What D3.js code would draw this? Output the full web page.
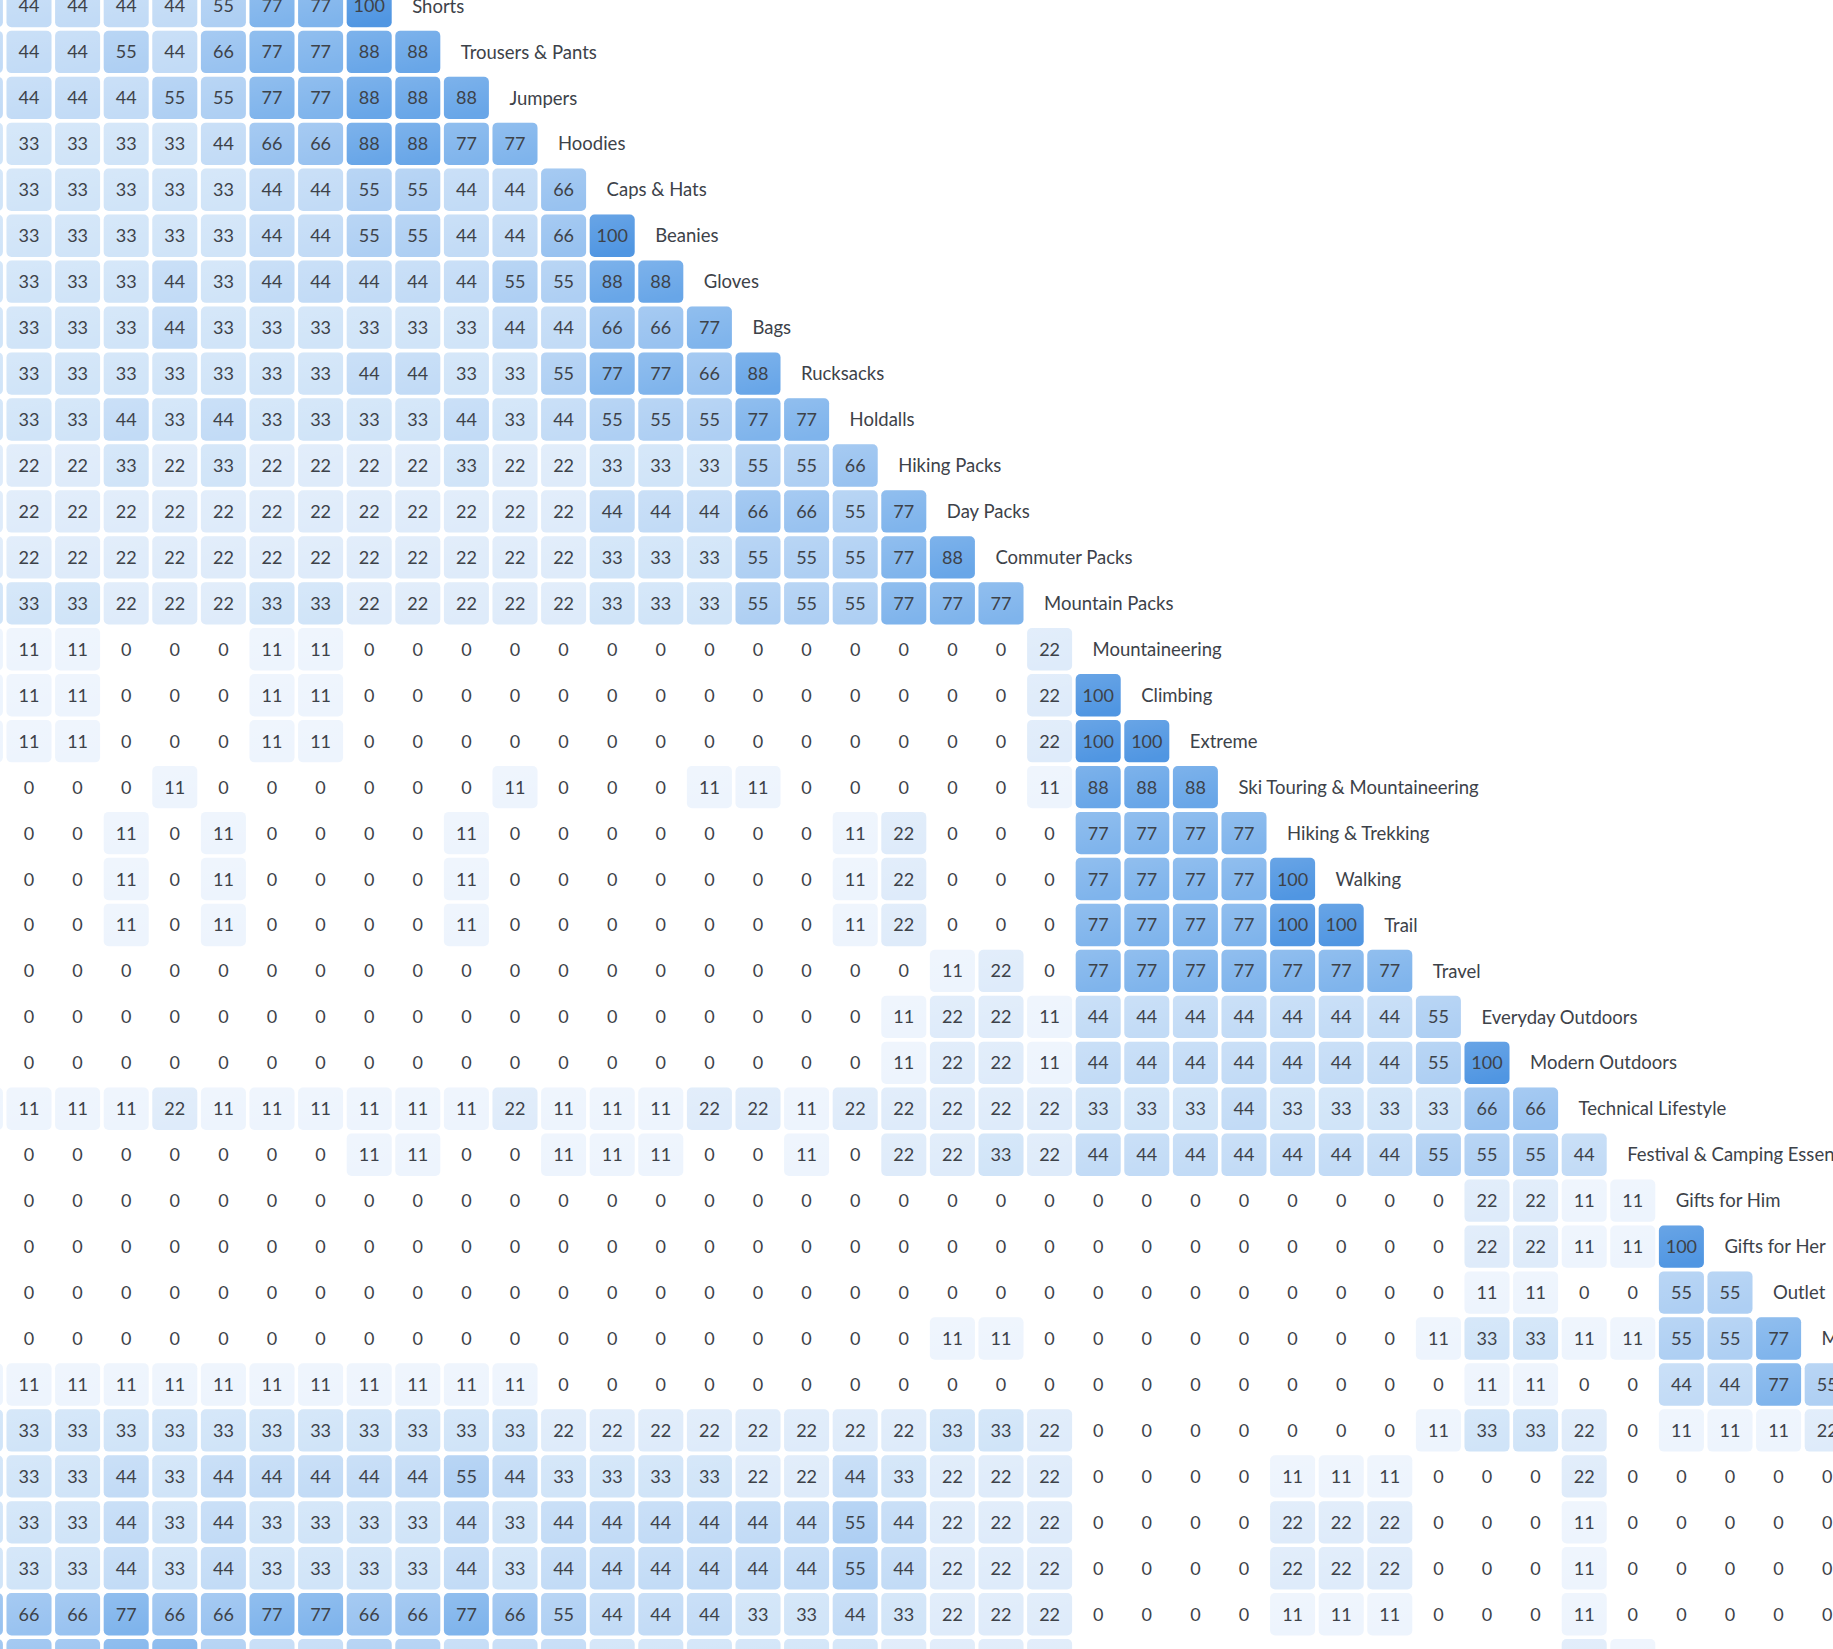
<!DOCTYPE html>
<html>
<head>
<meta charset="utf-8">
<script src="https://cdn.jsdelivr.net/npm/d3@7"></script>
<style>
  html, body { margin: 0; padding: 0; background: #ffffff; overflow: hidden; }
  svg { display: block; }
</style>
</head>
<body>
<div id="chart"></div>
<script>
// ---- data -------------------------------------------------------------
// Row labels (the item of each row). Rows below "M…" have their labels off-screen.
const rowLabels = [
  "Shorts", "Trousers & Pants", "Jumpers", "Hoodies", "Caps & Hats", "Beanies",
  "Gloves", "Bags", "Rucksacks", "Holdalls", "Hiking Packs", "Day Packs",
  "Commuter Packs", "Mountain Packs", "Mountaineering", "Climbing", "Extreme",
  "Ski Touring & Mountaineering", "Hiking & Trekking", "Walking", "Trail", "Travel",
  "Everyday Outdoors", "Modern Outdoors", "Technical Lifestyle",
  "Festival & Camping Essentials", "Gifts for Him", "Gifts for Her", "Outlet", "M",
  "", "", "", "", "", "", ""
];

// First visible column index (the column cut by the left edge).
const firstColumn = -1;

// Similarity values per row, starting at firstColumn.
const values = [
  [44, 44,44,44,44,55,77,77,100],
  [44, 44,44,55,44,66,77,77,88,88],
  [44, 44,44,44,55,55,77,77,88,88,88],
  [33, 33,33,33,33,44,66,66,88,88,77,77],
  [33, 33,33,33,33,33,44,44,55,55,44,44,66],
  [33, 33,33,33,33,33,44,44,55,55,44,44,66,100],
  [33, 33,33,33,44,33,44,44,44,44,44,55,55,88,88],
  [33, 33,33,33,44,33,33,33,33,33,33,44,44,66,66,77],
  [33, 33,33,33,33,33,33,33,44,44,33,33,55,77,77,66,88],
  [33, 33,33,44,33,44,33,33,33,33,44,33,44,55,55,55,77,77],
  [22, 22,22,33,22,33,22,22,22,22,33,22,22,33,33,33,55,55,66],
  [22, 22,22,22,22,22,22,22,22,22,22,22,22,44,44,44,66,66,55,77],
  [22, 22,22,22,22,22,22,22,22,22,22,22,22,33,33,33,55,55,55,77,88],
  [33, 33,33,22,22,22,33,33,22,22,22,22,22,33,33,33,55,55,55,77,77,77],
  [11, 11,11,0,0,0,11,11,0,0,0,0,0,0,0,0,0,0,0,0,0,0,22],
  [11, 11,11,0,0,0,11,11,0,0,0,0,0,0,0,0,0,0,0,0,0,0,22,100],
  [11, 11,11,0,0,0,11,11,0,0,0,0,0,0,0,0,0,0,0,0,0,0,22,100,100],
  [0, 0,0,0,11,0,0,0,0,0,0,11,0,0,0,11,11,0,0,0,0,0,11,88,88,88],
  [0, 0,0,11,0,11,0,0,0,0,11,0,0,0,0,0,0,0,11,22,0,0,0,77,77,77,77],
  [0, 0,0,11,0,11,0,0,0,0,11,0,0,0,0,0,0,0,11,22,0,0,0,77,77,77,77,100],
  [0, 0,0,11,0,11,0,0,0,0,11,0,0,0,0,0,0,0,11,22,0,0,0,77,77,77,77,100,100],
  [0, 0,0,0,0,0,0,0,0,0,0,0,0,0,0,0,0,0,0,0,11,22,0,77,77,77,77,77,77,77],
  [0, 0,0,0,0,0,0,0,0,0,0,0,0,0,0,0,0,0,0,11,22,22,11,44,44,44,44,44,44,44,55],
  [0, 0,0,0,0,0,0,0,0,0,0,0,0,0,0,0,0,0,0,11,22,22,11,44,44,44,44,44,44,44,55,100],
  [11, 11,11,11,22,11,11,11,11,11,11,22,11,11,11,22,22,11,22,22,22,22,22,33,33,33,44,33,33,33,33,66,66],
  [0, 0,0,0,0,0,0,0,11,11,0,0,11,11,11,0,0,11,0,22,22,33,22,44,44,44,44,44,44,44,55,55,55,44],
  [0, 0,0,0,0,0,0,0,0,0,0,0,0,0,0,0,0,0,0,0,0,0,0,0,0,0,0,0,0,0,0,22,22,11,11],
  [0, 0,0,0,0,0,0,0,0,0,0,0,0,0,0,0,0,0,0,0,0,0,0,0,0,0,0,0,0,0,0,22,22,11,11,100],
  [0, 0,0,0,0,0,0,0,0,0,0,0,0,0,0,0,0,0,0,0,0,0,0,0,0,0,0,0,0,0,0,11,11,0,0,55,55],
  [0, 0,0,0,0,0,0,0,0,0,0,0,0,0,0,0,0,0,0,0,11,11,0,0,0,0,0,0,0,0,11,33,33,11,11,55,55,77],
  [11, 11,11,11,11,11,11,11,11,11,11,11,0,0,0,0,0,0,0,0,0,0,0,0,0,0,0,0,0,0,0,11,11,0,0,44,44,77,55],
  [33, 33,33,33,33,33,33,33,33,33,33,33,22,22,22,22,22,22,22,22,33,33,22,0,0,0,0,0,0,0,11,33,33,22,0,11,11,11,22],
  [33, 33,33,44,33,44,44,44,44,44,55,44,33,33,33,33,22,22,44,33,22,22,22,0,0,0,0,11,11,11,0,0,0,22,0,0,0,0,0],
  [33, 33,33,44,33,44,33,33,33,33,44,33,44,44,44,44,44,44,55,44,22,22,22,0,0,0,0,22,22,22,0,0,0,11,0,0,0,0,0],
  [33, 33,33,44,33,44,33,33,33,33,44,33,44,44,44,44,44,44,55,44,22,22,22,0,0,0,0,22,22,22,0,0,0,11,0,0,0,0,0],
  [66, 66,66,77,66,66,77,77,66,66,77,66,55,44,44,44,33,33,44,33,22,22,22,0,0,0,0,11,11,11,0,0,0,11,0,0,0,0,0],
  [66, 66,66,77,77,55,44,44,55,55,44,44,44,33,33,33,33,33,33,22,22,22,22,0,0,0,0,0,0,0,0,0,0,22,11,0,0,0,0]
];

// Colour legend steps.
const colorSteps  = [11, 22, 33, 44, 55, 66, 77, 88, 100];
const colorValues = ["#edf4fd", "#deebfa", "#d0e4f8", "#c2dbf6", "#aecff3",
                     "#98c2f0", "#7fb4ec", "#68a6e8", "#5096e2"];

// ---- layout -----------------------------------------------------------
const W = 1833, H = 1649;
const stepX = 48.6, stepY = 45.95;
const padX = 3.6 / stepX, padY = 3.6 / stepY;
const x0 = -42.1, y0 = -15.2;
const nCols = 41, nRows = values.length;

const x = d3.scaleBand()
  .domain(d3.range(firstColumn, firstColumn + nCols))
  .range([x0, x0 + stepX * (nCols - padX)])
  .paddingInner(padX).paddingOuter(0).align(0);

const y = d3.scaleBand()
  .domain(d3.range(0, nRows))
  .range([y0, y0 + stepY * (nRows - padY)])
  .paddingInner(padY).paddingOuter(0).align(0);

const color = d3.scaleOrdinal().domain(colorSteps).range(colorValues);

const svg = d3.select("#chart").append("svg")
  .attr("width", W).attr("height", H)
  .attr("viewBox", `0 0 ${W} ${H}`);

const defs = svg.append("defs");
const g = defs.append("linearGradient").attr("id", "sheen")
  .attr("x1", 0).attr("y1", 0).attr("x2", 0.25).attr("y2", 1);
g.append("stop").attr("offset", "0%").attr("stop-color", "#ffffff").attr("stop-opacity", 0.14);
g.append("stop").attr("offset", "100%").attr("stop-color", "#ffffff").attr("stop-opacity", 0);

svg.append("rect").attr("width", W).attr("height", H).attr("fill", "#ffffff");

const cells = values.flatMap((row, r) =>
  row.map((v, j) => ({ r, c: firstColumn + j, v })));

const bw = x.bandwidth(), bh = y.bandwidth();
const font = "Lato, 'Open Sans', sans-serif";
const ink = "#3d4249";

const filled = cells.filter(d => d.v > 0);

svg.append("g").selectAll("rect")
  .data(filled).join("rect")
  .attr("x", d => x(d.c)).attr("y", d => y(d.r))
  .attr("width", bw).attr("height", bh)
  .attr("rx", 5).attr("ry", 5)
  .attr("fill", d => color(d.v));

svg.append("g").selectAll("rect")
  .data(filled).join("rect")
  .attr("x", d => x(d.c)).attr("y", d => y(d.r))
  .attr("width", bw).attr("height", bh)
  .attr("rx", 5).attr("ry", 5)
  .attr("fill", "url(#sheen)");

svg.append("g").selectAll("text")
  .data(cells).join("text")
  .attr("x", d => x(d.c) + bw / 2)
  .attr("y", d => y(d.r) + bh / 2)
  .attr("dy", "0.36em")
  .attr("text-anchor", "middle")
  .attr("font-family", font)
  .attr("font-size", 18)
  .attr("fill", ink)
  .text(d => d.v);

svg.append("g").selectAll("text")
  .data(rowLabels.map((label, r) => ({ label, r, last: firstColumn + values[r].length - 1 }))
    .filter(d => d.label !== ""))
  .join("text")
  .attr("x", d => x(d.last) + bw + 20.5)
  .attr("y", d => y(d.r) + bh / 2)
  .attr("dy", "0.36em")
  .attr("font-family", font)
  .attr("font-size", 18.5)
  .attr("fill", ink)
  .text(d => d.label);
</script>
</body>
</html>
